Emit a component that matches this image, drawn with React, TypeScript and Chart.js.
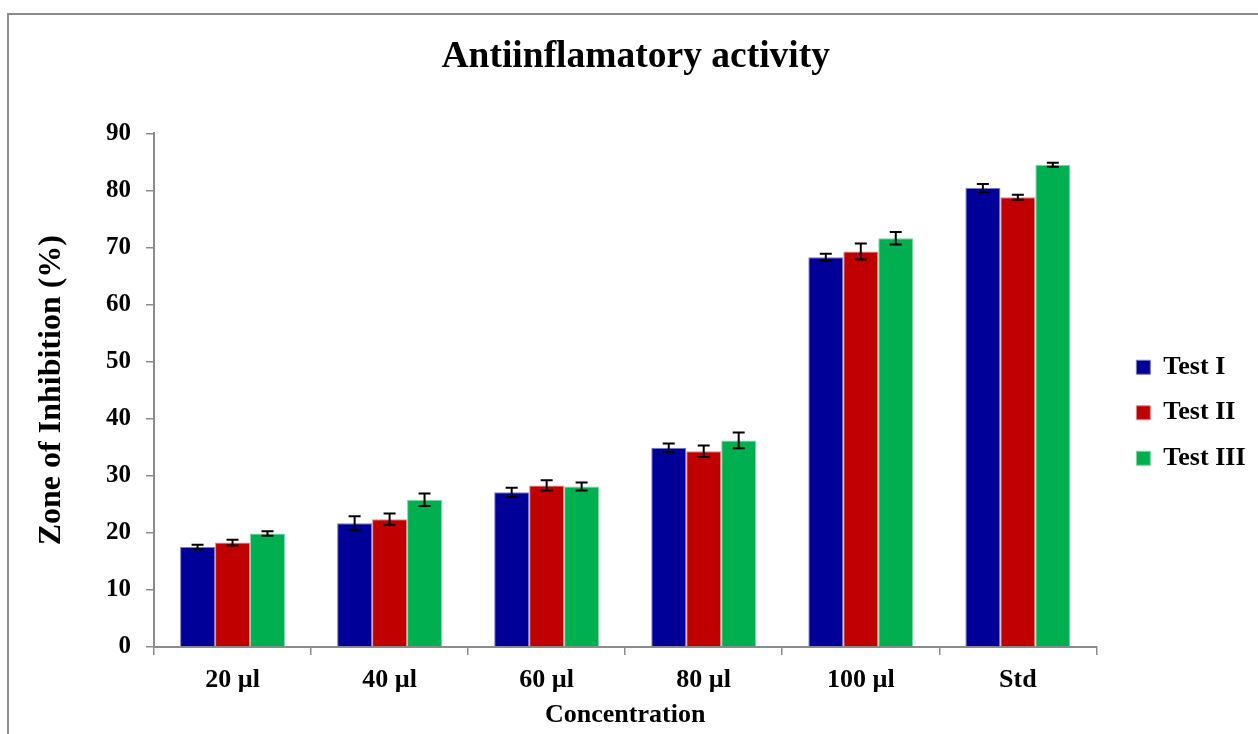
import React, { useEffect, useRef } from "react";
import { Chart, registerables } from "chart.js";

Chart.register(...registerables);

const categories = ["20 µl", "40 µl", "60 µl", "80 µl", "100 µl", "Std"];
const seriesNames = ["Test I", "Test II", "Test III"];
const testI = [17.5, 21.7, 27.1, 34.9, 68.3, 80.4];
const testII = [18.3, 22.4, 28.3, 34.3, 69.3, 78.8];
const testIII = [19.9, 25.8, 28.1, 36.2, 71.6, 84.5];
const errI = [0.4, 1.2, 0.8, 0.75, 0.6, 0.7];
const errII = [0.5, 1.0, 0.9, 1.0, 1.4, 0.45];
const errIII = [0.4, 1.1, 0.7, 1.4, 1.1, 0.35];
const yMin = 0;
const yMax = 90;
const yStep = 10;

const seriesValues = [testI, testII, testIII];
const seriesErrors = [errI, errII, errIII];
const fillColors = ["#000099", "#C00000", "#00B050"];
const edgeColors = ["#7A7AC8", "#E08A8A", "#7FD6A6"];

const FONT = "'Liberation Serif', 'Times New Roman', serif";
const AXIS_GRAY = "#8c8c8c";

const errorBarPlugin = {
  id: "errorBars",
  afterDatasetsDraw(chart: any) {
    const { ctx } = chart;
    const yScale = chart.scales.y;
    ctx.save();
    ctx.strokeStyle = "#000";
    ctx.lineWidth = 2;
    chart.data.datasets.forEach((ds: any, i: number) => {
      const meta = chart.getDatasetMeta(i);
      const errs = seriesErrors[i];
      meta.data.forEach((bar: any, j: number) => {
        const v = ds.data[j];
        const top = yScale.getPixelForValue(v + errs[j]);
        const bot = yScale.getPixelForValue(v - errs[j]);
        const x = bar.x;
        ctx.beginPath();
        ctx.moveTo(x, top);
        ctx.lineTo(x, bot);
        ctx.moveTo(x - 6, top);
        ctx.lineTo(x + 6, top);
        ctx.moveTo(x - 6, bot);
        ctx.lineTo(x + 6, bot);
        ctx.stroke();
      });
    });
    ctx.restore();
  },
};

export default function App() {
  const canvasRef = useRef<HTMLCanvasElement | null>(null);

  useEffect(() => {
    if (!canvasRef.current) return;
    const chart = new Chart(canvasRef.current, {
      type: "bar",
      data: {
        labels: categories,
        datasets: seriesNames.map((name, i) => ({
          label: name,
          data: seriesValues[i],
          backgroundColor: fillColors[i],
          borderColor: edgeColors[i],
          borderWidth: 1,
          categoryPercentage: 0.668,
          barPercentage: 1.0,
          xAxisID: "x",
          yAxisID: "y",
        })),
      },
      options: {
        animation: false,
        responsive: false,
        maintainAspectRatio: false,
        devicePixelRatio: 1,
        layout: { padding: { left: 16, right: 2.5, top: 0, bottom: 0 } },
        plugins: {
          tooltip: { enabled: false },
          title: {
            display: true,
            text: "Antiinflamatory activity",
            color: "#000",
            font: { family: FONT, size: 37.5, weight: "bold" },
            padding: { top: 35, bottom: 53.3 },
          },
          legend: {
            display: true,
            position: "right",
            fullSize: false,
            labels: {
              boxWidth: 14,
              boxHeight: 14,
              padding: 19.5,
              color: "#000",
              font: { family: FONT, size: 26, weight: "bold" },
            },
            title: {
              display: true,
              text: " ",
              font: { family: FONT, size: 1 },
              padding: { top: 44, bottom: 0 },
            },
          },
        },
        scales: {
          x: {
            type: "category",
            position: "bottom",
            offset: true,
            grid: {
              display: true,
              drawOnChartArea: false,
              offset: true,
              tickLength: 8,
              color: AXIS_GRAY,
              lineWidth: 1.5,
            },
            border: { display: true, color: AXIS_GRAY, width: 2 },
            ticks: {
              color: "#000",
              padding: 9.6,
              maxRotation: 0,
              font: { family: FONT, size: 26, weight: "bold" },
            },
            title: {
              display: true,
              text: "Concentration",
              color: "#000",
              font: { family: FONT, size: 26, weight: "bold" },
              padding: { top: 0, bottom: 3 },
            },
            afterFit: (s: any) => {
              s.height = 87;
            },
          },
          y: {
            type: "linear",
            position: "left",
            min: yMin,
            max: yMax,
            grid: {
              display: true,
              drawOnChartArea: false,
              tickLength: 8,
              color: AXIS_GRAY,
              lineWidth: 1.5,
            },
            border: { display: true, color: AXIS_GRAY, width: 2 },
            ticks: {
              stepSize: yStep,
              color: "#000",
              padding: 15,
              font: { family: FONT, size: 25, weight: "bold" },
            },
            title: {
              display: true,
              text: "Zone of Inhibition (%)",
              color: "#000",
              font: { family: FONT, size: 32, weight: "bold" },
              padding: { top: 17, bottom: 0 },
            },
            afterFit: (s: any) => {
              s.width = 138;
            },
          },
          yR: {
            type: "linear",
            position: "right",
            display: true,
            grid: { display: false },
            border: { display: false },
            ticks: { display: false },
            afterFit: (s: any) => {
              s.width = 20.5;
            },
          },
        },
      },
      plugins: [errorBarPlugin],
    } as any);
    return () => chart.destroy();
  }, []);

  return (
    <div
      style={{
        position: "fixed",
        left: 0,
        top: 0,
        width: 1258,
        height: 734,
        overflow: "hidden",
        background: "#fff",
      }}
    >
      <div
        style={{
          position: "absolute",
          left: 7,
          top: 13,
          width: 1300,
          height: 800,
          border: `2px solid ${AXIS_GRAY}`,
          pointerEvents: "none",
        }}
      />
      <canvas
        ref={canvasRef}
        width={1258}
        height={734}
        style={{ position: "absolute", left: 0, top: 0, width: 1258, height: 734 }}
      />
    </div>
  );
}
